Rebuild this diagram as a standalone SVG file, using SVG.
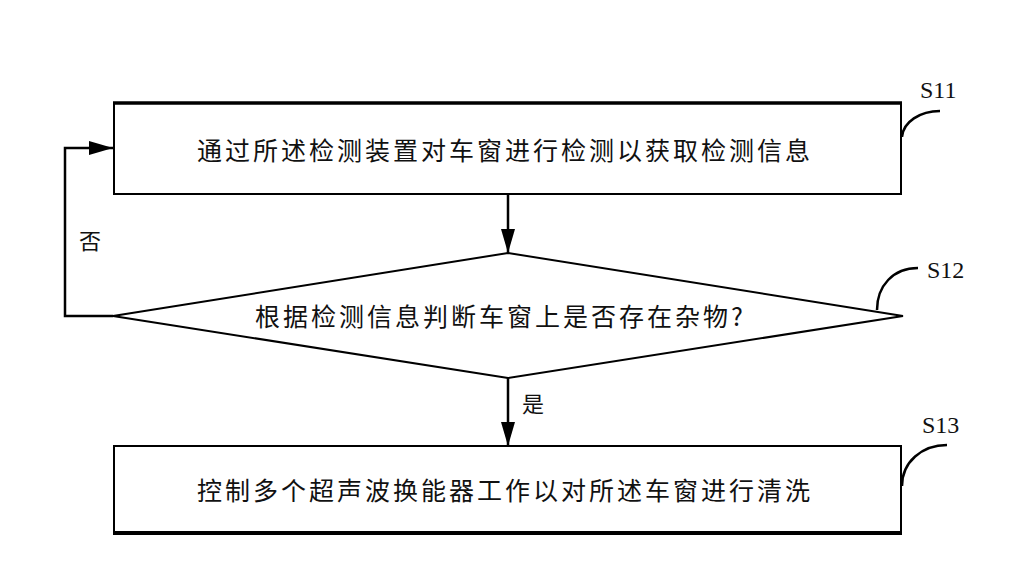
<svg xmlns="http://www.w3.org/2000/svg" width="1035" height="588" viewBox="0 0 1035 588">
<defs>
<style>
.box{fill:#fff;stroke:#000;stroke-width:2}
.edge{fill:none;stroke:#000;stroke-width:2.5}
.lead{fill:none;stroke:#000;stroke-width:2.5}
.t{font-family:"Noto Sans CJK SC","Noto Sans CJK JP",sans-serif;font-size:25px;fill:#111;letter-spacing:3px;dominant-baseline:central}
.lbl{font-family:"Noto Sans CJK SC",sans-serif;font-size:22px;fill:#111;dominant-baseline:central;text-anchor:middle}
.sid{font-family:"Liberation Serif",serif;font-size:24px;fill:#111}
</style>
<marker id="ah" viewBox="0 0 24 14" refX="24" refY="7" markerWidth="24" markerHeight="14" markerUnits="userSpaceOnUse" orient="auto">
<path d="M0,0 L24,7 L0,14 Z" fill="#000"/>
</marker>
</defs>
<rect width="1035" height="588" fill="#fff"/>
<g id="connectors">
<line class="edge" x1="508" y1="194" x2="508" y2="253" marker-end="url(#ah)"/>
<line class="edge" x1="508" y1="378" x2="508" y2="446" marker-end="url(#ah)"/>
<polyline class="edge" points="113,316 65,316 65,148 113,148" marker-end="url(#ah)"/>
<text class="lbl" x="90" y="239" font-size="24">否</text>
<text class="lbl" x="533" y="402">是</text>
</g>
<g id="S11">
<rect class="box" x="114" y="103" width="787" height="91"/>
<line x1="113" y1="103" x2="902" y2="103" stroke="#000" stroke-width="3.5"/>
<text class="t" x="197" y="149">通过所述检测装置对车窗进行检测以获取检测信息</text>
<path class="lead" d="M902,137 C903,122 920,111 940,111"/>
<text class="sid" x="920" y="98">S11</text>
</g>
<g id="S12">
<polygon class="box" points="508,253 903,316 508,378 113,316" stroke-width="2.5"/>
<text class="t" x="255" y="315">根据检测信息判断车窗上是否存在杂物?</text>
<path class="lead" d="M877,310 C877,286 893,268 918,268"/>
<text class="sid" x="927" y="278">S12</text>
</g>
<g id="S13">
<rect class="box" x="114" y="446" width="787" height="87"/>
<line x1="113" y1="533" x2="902" y2="533" stroke="#000" stroke-width="4"/>
<text class="t" x="197" y="489">控制多个超声波换能器工作以对所述车窗进行清洗</text>
<path class="lead" d="M902,486 C902,462 922,445 947,445"/>
<text class="sid" x="922" y="433">S13</text>
</g>
</svg>
